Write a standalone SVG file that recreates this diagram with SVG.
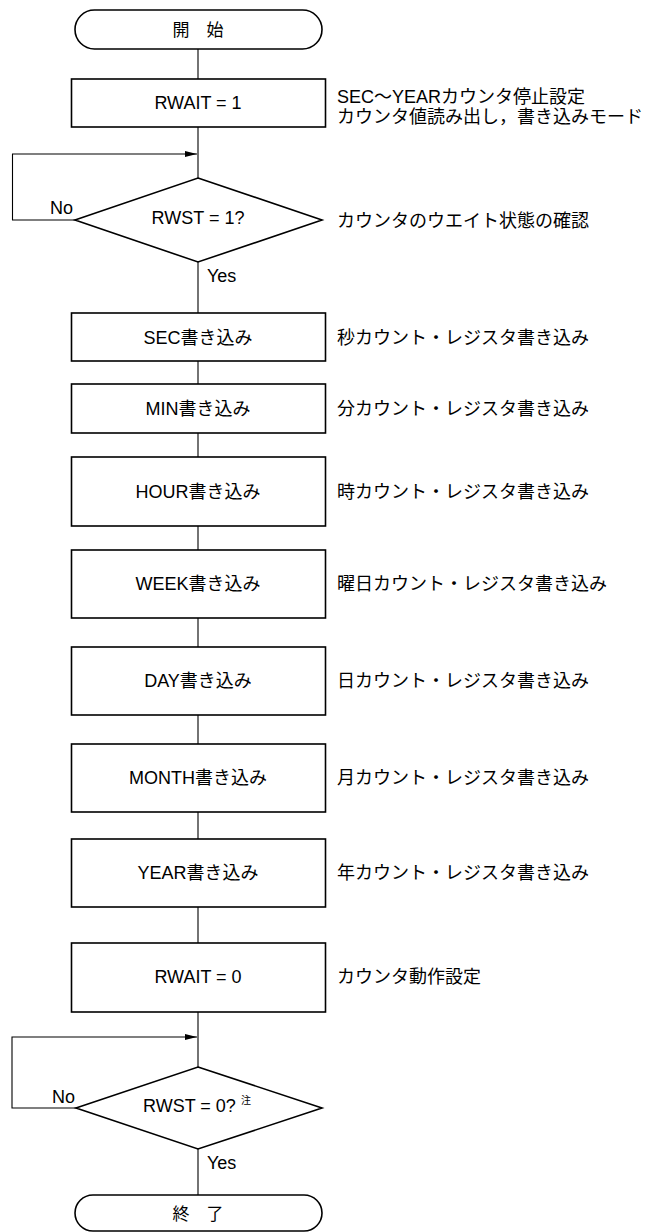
<svg xmlns="http://www.w3.org/2000/svg" width="649" height="1232" viewBox="0 0 649 1232">
<style>
text{font-family:"Liberation Sans","Noto Sans CJK JP",sans-serif;font-size:18px;fill:#000;dominant-baseline:central}
.c{text-anchor:middle}
.shape{fill:#fff;stroke:#000;stroke-width:1.6}
.ln{fill:none;stroke:#000;stroke-width:1.1}
</style>
<defs>
<marker id="arr" markerWidth="12" markerHeight="6" refX="12" refY="3" orient="auto" markerUnits="userSpaceOnUse">
<path d="M0,0 L12,3 L0,6 Z" fill="#000"/>
</marker>
</defs>
<g id="connectors">
<line class="ln" x1="198" y1="49" x2="198" y2="79"/>
<line class="ln" x1="198" y1="127" x2="198" y2="178"/>
<polyline class="ln" points="75,220 12.5,220 12.5,154 197,154" marker-end="url(#arr)"/>
<line class="ln" x1="198" y1="262" x2="198" y2="313"/>
<line class="ln" x1="198" y1="361" x2="198" y2="384"/>
<line class="ln" x1="198" y1="433" x2="198" y2="457"/>
<line class="ln" x1="198" y1="526" x2="198" y2="550"/>
<line class="ln" x1="198" y1="618" x2="198" y2="647"/>
<line class="ln" x1="198" y1="715" x2="198" y2="744"/>
<line class="ln" x1="198" y1="812" x2="198" y2="839"/>
<line class="ln" x1="198" y1="907" x2="198" y2="943"/>
<line class="ln" x1="198" y1="1012" x2="198" y2="1067"/>
<polyline class="ln" points="76,1108 12,1108 12,1037 197,1037" marker-end="url(#arr)"/>
<line class="ln" x1="198" y1="1149" x2="198" y2="1195"/>
<text x="50" y="208">No</text>
<text x="207" y="276">Yes</text>
<text x="52" y="1097">No</text>
<text x="207" y="1163">Yes</text>
</g>
<g id="start">
<rect class="shape" x="75" y="10" width="247" height="39" rx="19.5" ry="19.5"/>
<text class="c" x="198" y="30" style="font-size:17px">開　始</text>
</g>
<g id="rwait1">
<rect class="shape" x="71.5" y="79" width="254" height="48"/>
<text class="c" x="198" y="103">RWAIT = 1</text>
<text x="337" y="97">SEC～YEARカウンタ停止設定</text>
<text x="337" y="117">カウンタ値読み出し，書き込みモード</text>
</g>
<g id="check1">
<polygon class="shape" points="198,178 322,220 198,262 75,220"/>
<text class="c" x="198" y="218">RWST = 1?</text>
<text x="337" y="221">カウンタのウエイト状態の確認</text>
</g>
<g id="sec">
<rect class="shape" x="71.5" y="313" width="254" height="48"/>
<text class="c" x="198" y="338">SEC書き込み</text>
<text x="337" y="338">秒カウント・レジスタ書き込み</text>
</g>
<g id="min">
<rect class="shape" x="71.5" y="384" width="254" height="49"/>
<text class="c" x="198" y="409">MIN書き込み</text>
<text x="337" y="409">分カウント・レジスタ書き込み</text>
</g>
<g id="hour">
<rect class="shape" x="71.5" y="457" width="254" height="69"/>
<text class="c" x="198" y="492">HOUR書き込み</text>
<text x="337" y="492">時カウント・レジスタ書き込み</text>
</g>
<g id="week">
<rect class="shape" x="71.5" y="550" width="254" height="68"/>
<text class="c" x="198" y="584">WEEK書き込み</text>
<text x="337" y="584">曜日カウント・レジスタ書き込み</text>
</g>
<g id="day">
<rect class="shape" x="71.5" y="647" width="254" height="68"/>
<text class="c" x="198" y="681">DAY書き込み</text>
<text x="337" y="681">日カウント・レジスタ書き込み</text>
</g>
<g id="month">
<rect class="shape" x="71.5" y="744" width="254" height="68"/>
<text class="c" x="198" y="778">MONTH書き込み</text>
<text x="337" y="778">月カウント・レジスタ書き込み</text>
</g>
<g id="year">
<rect class="shape" x="71.5" y="839" width="254" height="68"/>
<text class="c" x="198" y="873">YEAR書き込み</text>
<text x="337" y="873">年カウント・レジスタ書き込み</text>
</g>
<g id="rwait0">
<rect class="shape" x="71.5" y="943" width="254" height="69"/>
<text class="c" x="198" y="977">RWAIT = 0</text>
<text x="337" y="977">カウンタ動作設定</text>
</g>
<g id="check2">
<polygon class="shape" points="198,1067 322,1108 198,1149 76,1108"/>
<text x="143" y="1106">RWST = 0?<tspan dx="5" dy="-6" style="font-size:10px">注</tspan></text>
</g>
<g id="end">
<rect class="shape" x="75" y="1195" width="247" height="36" rx="18" ry="18"/>
<text class="c" x="198" y="1214" style="font-size:17px">終　了</text>
</g>
</svg>
